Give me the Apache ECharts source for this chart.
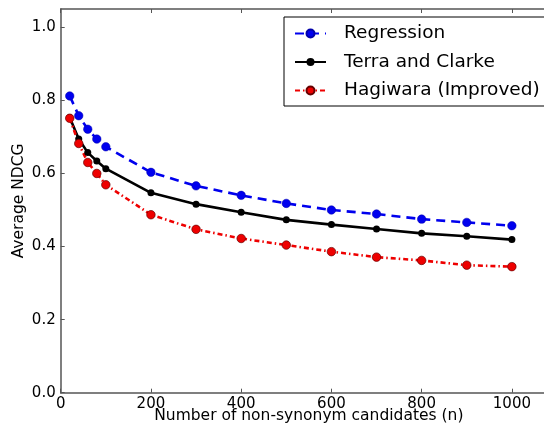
<!DOCTYPE html>
<html>
<head>
<meta charset="utf-8">
<script src="https://cdn.jsdelivr.net/npm/echarts@6/dist/echarts.min.js"></script>
<style>html,body{margin:0;padding:0;background:#fff}#c{width:544px;height:429px}</style>
</head>
<body>
<div id="c"></div>
<script>
const xValues = [20, 40, 60, 80, 100, 200, 300, 400, 500, 600, 700, 800, 900, 1000];
const regression = [0.812, 0.758, 0.721, 0.694, 0.673, 0.603, 0.566, 0.540, 0.518, 0.500, 0.489, 0.475, 0.466, 0.457];
const terraClarke = [0.753, 0.694, 0.657, 0.634, 0.613, 0.547, 0.516, 0.494, 0.473, 0.460, 0.448, 0.436, 0.428, 0.419];
const hagiwara = [0.751, 0.682, 0.630, 0.600, 0.569, 0.487, 0.447, 0.422, 0.404, 0.386, 0.371, 0.362, 0.349, 0.345];
const seriesNames = ['Regression', 'Terra and Clarke', 'Hagiwara (Improved)'];
const xTitle = 'Number of non-synonym candidates (n)';
const yTitle = 'Average NDCG';

const font = 'DejaVu Sans';
const axisColor = '#555';
const pairs = arr => xValues.map((x, i) => [x, arr[i]]);

const chart = echarts.init(document.getElementById('c'), null, {renderer: 'canvas'});
chart.setOption({
  animation: false,
  backgroundColor: '#fff',
  textStyle: {fontFamily: font},
  grid: {left: 60.7, right: -13, top: 9, bottom: 36.3, containLabel: false, outerBoundsMode: 'none'},
  legend: {
    orient: 'vertical', left: 284, top: 17,
    data: seriesNames,
    itemWidth: 31, itemHeight: 10, itemGap: 9.5,
    padding: [7, 12, 6, 10],
    borderColor: '#000', borderWidth: 1,
    backgroundColor: '#fff',
    textStyle: {fontFamily: font, fontSize: 18.5, color: '#000', padding: [0, 0, 0, 13]}
  },
  xAxis: [{
    type: 'value', min: 0, max: 1100, interval: 200,
    name: xTitle, nameLocation: 'middle', nameGap: 15, nameMoveOverlap: false,
    nameTextStyle: {fontFamily: font, fontSize: 15.5, color: '#000'},
    axisLine: {show: true, lineStyle: {color: axisColor, width: 1.5}},
    axisTick: {show: true, inside: true, length: 4, lineStyle: {color: axisColor}},
    axisLabel: {fontFamily: font, fontSize: 15, color: '#000', margin: 4, showMaxLabel: false,
      formatter: v => String(v)},
    splitLine: {show: false}
  }, {
    type: 'value', min: 0, max: 1100, interval: 200, position: 'top',
    axisLine: {show: true, lineStyle: {color: axisColor, width: 1.5}},
    axisTick: {show: true, inside: true, length: 4, lineStyle: {color: axisColor}},
    axisLabel: {show: false},
    splitLine: {show: false}
  }],
  yAxis: {
    type: 'value', min: 0, max: 1.05, interval: 0.2,
    name: yTitle, nameLocation: 'middle', nameGap: 34, nameMoveOverlap: false,
    nameTextStyle: {fontFamily: font, fontSize: 15.5, color: '#000'},
    axisLine: {show: true, lineStyle: {color: axisColor, width: 1.5}},
    axisTick: {show: true, inside: true, length: 4, lineStyle: {color: axisColor}},
    axisLabel: {fontFamily: font, fontSize: 15, color: '#000', margin: 5, showMaxLabel: false,
      formatter: v => v.toFixed(1)},
    splitLine: {show: false}
  },
  series: [{
    name: seriesNames[0], type: 'line', data: pairs(regression),
    symbol: 'circle', symbolSize: 8.5,
    itemStyle: {color: '#0000ee', borderColor: '#0000aa', borderWidth: 0.5},
    lineStyle: {color: '#0000ee', width: 2.6, type: [9, 6]}
  }, {
    name: seriesNames[1], type: 'line', data: pairs(terraClarke),
    symbol: 'circle', symbolSize: 7,
    itemStyle: {color: '#000'},
    lineStyle: {color: '#000', width: 2.6, type: 'solid'}
  }, {
    name: seriesNames[2], type: 'line', data: pairs(hagiwara),
    symbol: 'circle', symbolSize: 8.5,
    itemStyle: {color: '#ee0000', borderColor: '#660000', borderWidth: 0.7},
    lineStyle: {color: '#ee0000', width: 2.6, type: [5, 3, 1.5, 3]}
  }]
});
</script>
</body>
</html>
